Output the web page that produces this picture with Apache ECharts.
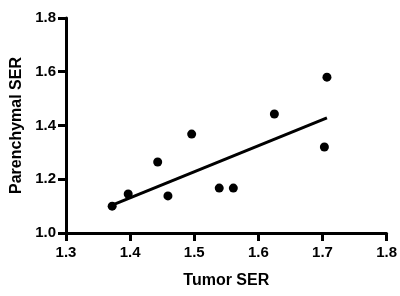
<!DOCTYPE html>
<html>
<head>
<meta charset="utf-8">
<script src="https://cdn.jsdelivr.net/npm/echarts@6/dist/echarts.min.js"></script>
<style>
  html, body { margin: 0; padding: 0; background: #fff; }
  #chart { width: 400px; height: 296px; }
</style>
</head>
<body>
<div id="chart"></div>
<script>
// measured points (tumor SER, parenchymal SER)
const tumorSER = [1.372, 1.397, 1.443, 1.459, 1.496, 1.539, 1.561, 1.625, 1.707, 1.703];
const parenchymalSER = [1.100, 1.145, 1.264, 1.138, 1.368, 1.167, 1.167, 1.443, 1.580, 1.320];
// fitted line end points
const fitX = [1.372, 1.707];
const fitY = [1.104, 1.428];

const points = tumorSER.map((x, i) => [x, parenchymalSER[i]]);
const fitLine = fitX.map((x, i) => [x, fitY[i]]);

const chart = echarts.init(document.getElementById('chart'));
const boldFont = { fontWeight: 'bold', fontFamily: 'Liberation Sans', color: '#000' };

chart.setOption({
  animation: false,
  grid: { left: 66, right: 13, top: 18, bottom: 63 },
  xAxis: {
    type: 'value',
    min: 1.3,
    max: 1.8,
    interval: 0.1,
    name: 'Tumor SER',
    nameLocation: 'middle',
    nameGap: 40,
    nameTextStyle: Object.assign({ fontSize: 16 }, boldFont),
    axisLine: { show: true, onZero: false, lineStyle: { color: '#000', width: 3 } },
    axisTick: { show: true, inside: false, length: 8, lineStyle: { color: '#000', width: 3 } },
    axisLabel: Object.assign({ fontSize: 15, margin: 12, formatter: v => v.toFixed(1) }, boldFont),
    splitLine: { show: false }
  },
  yAxis: {
    type: 'value',
    min: 1.0,
    max: 1.8,
    interval: 0.2,
    name: 'Parenchymal SER',
    nameLocation: 'middle',
    nameGap: 41,
    nameTextStyle: Object.assign({ fontSize: 16 }, boldFont),
    axisLine: { show: true, onZero: false, lineStyle: { color: '#000', width: 3 } },
    axisTick: { show: true, inside: false, length: 8, lineStyle: { color: '#000', width: 3 } },
    axisLabel: Object.assign({ fontSize: 15, margin: 10, formatter: v => v.toFixed(1) }, boldFont),
    splitLine: { show: false }
  },
  series: [
    {
      type: 'line',
      data: fitLine,
      symbol: 'none',
      lineStyle: { color: '#000', width: 3 },
      z: 2
    },
    {
      type: 'scatter',
      data: points,
      symbol: 'circle',
      symbolSize: 9,
      itemStyle: { color: '#000', opacity: 1 },
      z: 3
    }
  ]
});
</script>
</body>
</html>
